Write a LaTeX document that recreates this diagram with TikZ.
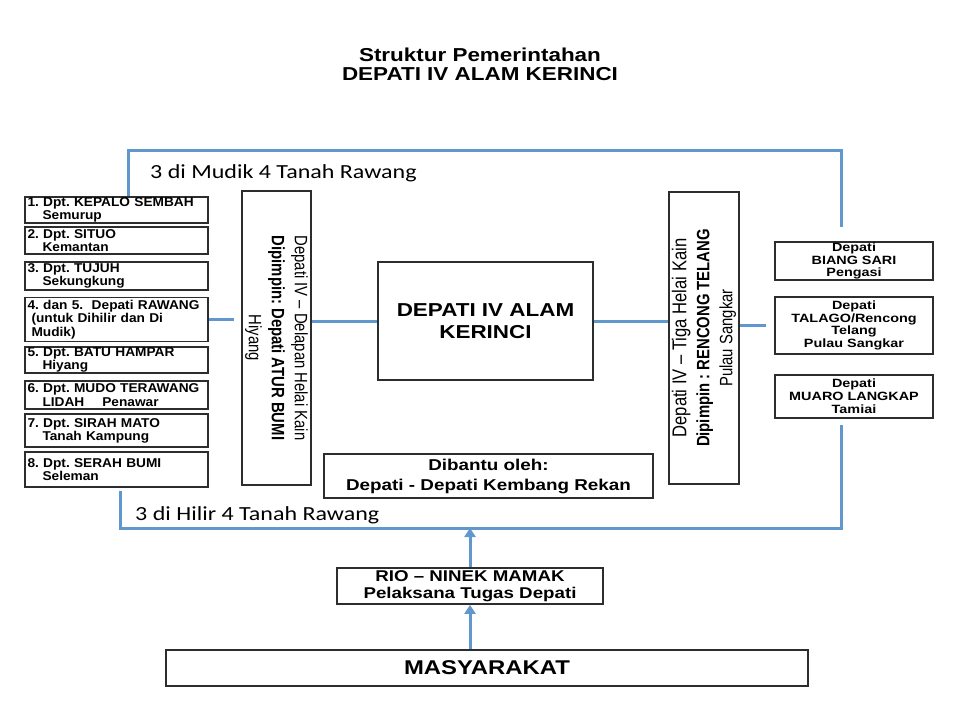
\documentclass[tikz,border=0pt]{standalone}
\usepackage{fontspec}
\setmainfont{Liberation Sans}
\newfontfamily\wideface[FakeStretch=1.2]{Liberation Sans}
\newfontfamily\listface[FakeStretch=1.07]{Liberation Sans}
\newfontfamily\tallface[FakeStretch=0.83]{Liberation Sans}
\newfontfamily\handface[FakeStretch=1.2]{Carlito}
\usetikzlibrary{arrows.meta}
\definecolor{linkblue}{RGB}{96,151,204}
\definecolor{edge}{RGB}{45,45,45}
\frenchspacing

\begin{document}
\begin{tikzpicture}[x=1pt,y=-1pt,
    frame/.style={draw=edge,line width=1.8pt,fill=white,inner sep=0pt},
    listbox/.style={frame,minimum width=183pt,text width=178pt,align=left,
      font=\listface\bfseries\fontsize{12.8}{13.2}\selectfont},
    sidebox/.style={frame,minimum width=158pt,align=center,
      font=\wideface\bfseries\fontsize{12}{12.8}\selectfont},
    mainbox/.style={frame,align=center,font=\wideface\bfseries},
    tallbox/.style={frame,minimum width=70pt,minimum height=293pt},
    turned/.style={align=center,inner sep=0pt,font=\tallface\fontsize{17.9}{23}\selectfont},
    link/.style={draw=linkblue,line width=3pt},
    lift/.style={link,-{Triangle[length=9pt,width=11pt]}},
    caption/.style={anchor=base west,inner sep=0pt,font=\handface\fontsize{20}{20}\selectfont}]

  \fill[white] (0,0) rectangle (960,720);

  % --- title ---
  \node[align=center,font=\wideface\bfseries\fontsize{18.7}{18.7}\selectfont] (title) at (480,64)
    {Struktur Pemerintahan\\DEPATI IV ALAM KERINCI};

  % --- the eight depati on the left ---
  \node[listbox,minimum height=26pt] (kepalo) at (116.5,210) {1. Dpt. KEPALO SEMBAH\\\hspace*{15pt}Semurup};
  \node[listbox,minimum height=27pt] (situo)  at (116.5,240.5) {2. Dpt. SITUO\\\hspace*{15pt}Kemantan};
  \node[listbox,minimum height=28pt] (tujuh)  at (116.5,276) {3. Dpt. TUJUH\\\hspace*{15pt}Sekungkung};
  \node[listbox,minimum height=44pt] (rawang) at (116.5,319.5) {4. dan 5.\ \ Depati RAWANG\\\hspace*{4pt}(untuk Dihilir dan Di\\\hspace*{4pt}Mudik)};
  \node[listbox,minimum height=26pt] (batu)   at (116.5,360) {5. Dpt. BATU HAMPAR\\\hspace*{15pt}Hiyang};
  \node[listbox,minimum height=28pt] (mudo)   at (116.5,395) {6. Dpt. MUDO TERAWANG\\\hspace*{15pt}LIDAH\hspace{18pt}Penawar};
  \node[listbox,minimum height=33pt] (sirah)  at (116.5,430.5) {7. Dpt. SIRAH MATO\\\hspace*{15pt}Tanah Kampung};
  \node[listbox,minimum height=35pt] (serah)  at (116.5,469.5) {8. Dpt. SERAH BUMI\\\hspace*{15pt}Seleman};

  % --- the two tall blocks ---
  \node[tallbox,minimum width=69pt,minimum height=294pt] (delapan) at (276.5,338) {};
  \node[turned,rotate=-90] (delapantext) at (delapan)
    {Depati IV – Delapan Helai Kain\\\textbf{Dipimpin: Depati ATUR BUMI}\\Hiyang};
  \node[tallbox,minimum height=292pt] (tiga) at (704,338) {};
  \node[turned,rotate=90] (tigatext) at (tiga)
    {{\fontsize{20}{23}\selectfont Depati IV – Tiga Helai Kain}\\\textbf{Dipimpin : RENCONG TELANG}\\Pulau Sangkar};

  % --- centre ---
  \node[mainbox,minimum width=215pt,minimum height=118pt,font=\wideface\bfseries\fontsize{18.7}{22}\selectfont]
    (alam) at (485.5,321) {DEPATI IV ALAM\\KERINCI};
  \node[mainbox,minimum width=329pt,minimum height=44pt,font=\wideface\bfseries\fontsize{15.7}{20}\selectfont]
    (kembang) at (488.5,476) {Dibantu oleh:\\Depati - Depati Kembang Rekan};

  % --- the three depati on the right ---
  \node[sidebox,minimum height=38pt] (biang)  at (854,261)   {Depati\\BIANG SARI\\Pengasi};
  \node[sidebox,minimum height=57pt] (talago) at (854,325.5) {Depati\\TALAGO/Rencong\\Telang\\Pulau Sangkar};
  \node[sidebox,minimum height=43pt] (muaro)  at (854,396.5) {Depati\\MUARO LANGKAP\\Tamiai};

  % --- below ---
  \node[mainbox,minimum width=266pt,minimum height=36pt,font=\wideface\bfseries\fontsize{15.6}{17.5}\selectfont]
    (rio) at (470,586) {RIO – NINEK MAMAK\\Pelaksana Tugas Depati};
  \node[mainbox,minimum width=642pt,minimum height=36pt,font=\wideface\bfseries\fontsize{19.9}{20}\selectfont]
    (masy) at (487,668) {MASYARAKAT};

  % --- blue connectors ---
  \coordinate (mudikL) at (128,150);
  \coordinate (mudikR) at (841,150);
  \coordinate (mudikEnd) at (841,227);
  \coordinate (hilirL) at (120,528);
  \coordinate (hilirR) at (841,528);
  \coordinate (hilirEnd) at (841,425);

  \draw[link] (kepalo.north -| mudikL) -- (mudikL) -- (mudikR) -- (mudikEnd);
  \draw[link] ([yshift=-3pt]serah.south -| hilirL) -- (hilirL) -- (hilirR) -- (hilirEnd);
  \draw[link,shorten >=7pt] (rawang.east) -- (rawang.east -| delapan.west);
  \draw[link] (alam.west -| delapan.east) -- (alam.west);
  \draw[link] (alam.east) -- (alam.east -| tiga.west);
  \draw[link,shorten >=8pt] (talago.west -| tiga.east) -- (talago.west);
  \draw[lift] (rio.north) -- (rio.north |- hilirL);
  \draw[lift] (masy.north -| rio.south) -- (rio.south);

  % --- bracket labels ---
  \node[caption] (mudiktext) at (150,178) {3 di Mudik 4 Tanah Rawang};
  \node[caption] (hilirtext) at (135,520) {3 di Hilir 4 Tanah Rawang};
\end{tikzpicture}
\end{document}
